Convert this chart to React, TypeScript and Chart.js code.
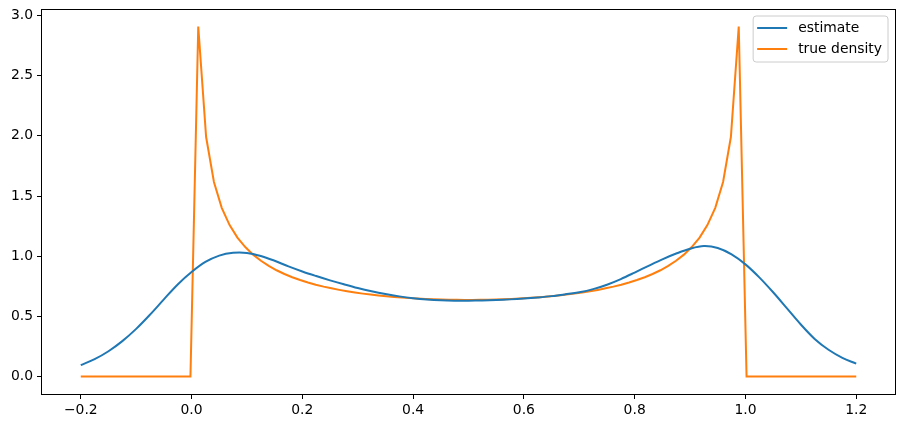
import { useEffect, useRef } from 'react';
import { Chart, registerables } from 'chart.js';

Chart.register(...registerables);

const seriesLabels = ['estimate', 'true density'];
const seriesColors = ['#1f77b4', '#ff7f0e'];

const estimateX = [
  -0.2, -0.175, -0.15, -0.125, -0.1, -0.075, -0.05, -0.025, 0, 0.025, 0.05, 0.075, 0.1, 0.125, 0.15,
  0.175, 0.2, 0.225, 0.25, 0.275, 0.3, 0.325, 0.35, 0.375, 0.4, 0.425, 0.45, 0.475, 0.5, 0.525, 0.55,
  0.575, 0.6, 0.625, 0.65, 0.675, 0.7, 0.725, 0.75, 0.775, 0.8, 0.825, 0.85, 0.875, 0.9, 0.925, 0.95,
  0.975, 1.0, 1.025, 1.05, 1.075, 1.1, 1.125, 1.15, 1.175, 1.2,
];
const estimateY = [
  0.094, 0.144, 0.21, 0.294, 0.396, 0.514, 0.641, 0.765, 0.868, 0.952, 1.005, 1.028, 1.027, 1.002, 0.962,
  0.915, 0.873, 0.835, 0.799, 0.766, 0.735, 0.708, 0.685, 0.666, 0.651, 0.64, 0.633, 0.63, 0.63, 0.632, 0.636,
  0.641, 0.648, 0.657, 0.668, 0.683, 0.7, 0.726, 0.763, 0.81, 0.864, 0.92, 0.974, 1.022, 1.062, 1.084, 1.068,
  1.015, 0.932, 0.824, 0.7, 0.566, 0.432, 0.312, 0.222, 0.155, 0.107,
];

const densityX = [
  -0.2, -0.002,
  0.0121, 0.0263, 0.0404, 0.0545, 0.0687, 0.0828, 0.097, 0.1111, 0.1253, 0.1394, 0.1535, 0.1677, 0.1818,
  0.196, 0.2101, 0.2242, 0.2384, 0.2525, 0.2667, 0.2808, 0.2949, 0.3091, 0.3232, 0.3374, 0.3515, 0.3657,
  0.3798, 0.3939, 0.4081, 0.4222, 0.4364, 0.4505, 0.4646, 0.4788, 0.4929,
  0.5071, 0.5212, 0.5354, 0.5495, 0.5636, 0.5778, 0.5919, 0.6061, 0.6202, 0.6343, 0.6485, 0.6626, 0.6768,
  0.6909, 0.7051, 0.7192, 0.7333, 0.7475, 0.7616, 0.7758, 0.7899, 0.804, 0.8182, 0.8323, 0.8465, 0.8606,
  0.8747, 0.8889, 0.903, 0.9172, 0.9313, 0.9455, 0.9596, 0.9737, 0.9879,
  1.002, 1.2,
];
const densityY = [
  0, 0,
  2.909, 1.9905, 1.6165, 1.4017, 1.2585, 1.1549, 1.0757, 1.0129, 0.9616, 0.919, 0.883, 0.852, 0.8253,
  0.8019, 0.7814, 0.7632, 0.747, 0.7327, 0.7198, 0.7083, 0.698, 0.6888, 0.6806, 0.6732, 0.6667, 0.6609,
  0.6558, 0.6514, 0.6477, 0.6445, 0.6418, 0.6398, 0.6382, 0.6372, 0.6367,
  0.6367, 0.6372, 0.6382, 0.6398, 0.6418, 0.6445, 0.6477, 0.6514, 0.6558, 0.6609, 0.6667, 0.6732, 0.6806,
  0.6888, 0.698, 0.7083, 0.7198, 0.7327, 0.747, 0.7632, 0.7814, 0.8019, 0.8253, 0.852, 0.883, 0.919,
  0.9616, 1.0129, 1.0757, 1.1549, 1.2585, 1.4017, 1.6165, 1.9905, 2.909,
  0, 0,
];

const xTicks = [-0.2, 0, 0.2, 0.4, 0.6, 0.8, 1.0, 1.2];
const yTicks = [0, 0.5, 1.0, 1.5, 2.0, 2.5, 3.0];
const xRange = [-0.27, 1.27];
const yRange = [-0.1455, 3.0545];

const FONT = 'DejaVu Sans';
const FS = 13.9;

const fmt = (v: number) => v.toFixed(1).replace('-', '\u2212');

const framePlugin = {
  id: 'frameAndLegend',
  afterDraw(chart: any) {
    const { ctx, chartArea } = chart;
    const { left, top, right, bottom } = chartArea;
    ctx.save();
    ctx.strokeStyle = '#000000';
    ctx.lineWidth = 1;
    ctx.strokeRect(Math.round(left) - 0.5, Math.round(top) + 0.5, Math.round(right - left) + 1, Math.round(bottom - top));

    ctx.font = `${FS}px "${FONT}"`;
    const textW = Math.max(...seriesLabels.map((l) => ctx.measureText(l).width));
    const handle = 30;
    const boxRight = right - 7;
    const boxTop = top + 7;
    const boxW = 4 + handle + 11 + textW + 6;
    const boxH = 46;
    const boxLeft = boxRight - boxW;
    const r = 3;
    ctx.beginPath();
    ctx.moveTo(boxLeft + r, boxTop);
    ctx.lineTo(boxRight - r, boxTop);
    ctx.quadraticCurveTo(boxRight, boxTop, boxRight, boxTop + r);
    ctx.lineTo(boxRight, boxTop + boxH - r);
    ctx.quadraticCurveTo(boxRight, boxTop + boxH, boxRight - r, boxTop + boxH);
    ctx.lineTo(boxLeft + r, boxTop + boxH);
    ctx.quadraticCurveTo(boxLeft, boxTop + boxH, boxLeft, boxTop + boxH - r);
    ctx.lineTo(boxLeft, boxTop + r);
    ctx.quadraticCurveTo(boxLeft, boxTop, boxLeft + r, boxTop);
    ctx.closePath();
    ctx.fillStyle = 'rgba(255,255,255,0.8)';
    ctx.fill();
    ctx.strokeStyle = '#cccccc';
    ctx.lineWidth = 1;
    ctx.stroke();

    seriesLabels.forEach((label, i) => {
      const cy = boxTop + 12 + i * 21;
      ctx.strokeStyle = seriesColors[i];
      ctx.lineWidth = 2;
      ctx.beginPath();
      ctx.moveTo(boxLeft + 4, cy);
      ctx.lineTo(boxLeft + 4 + handle, cy);
      ctx.stroke();
      ctx.fillStyle = '#000000';
      ctx.textBaseline = 'middle';
      ctx.textAlign = 'left';
      ctx.fillText(label, boxLeft + 4 + handle + 11, cy);
    });
    ctx.restore();
  },
};

export default function App() {
  const ref = useRef<HTMLCanvasElement | null>(null);

  useEffect(() => {
    document.body.style.margin = '0';
    const canvas = ref.current;
    if (!canvas) return;
    const chart = new Chart(canvas, {
      type: 'scatter',
      data: {
        datasets: [
          {
            label: seriesLabels[0],
            data: estimateX.map((x, i) => ({ x, y: estimateY[i] })),
            showLine: true,
            borderColor: seriesColors[0],
            backgroundColor: seriesColors[0],
            borderWidth: 2,
            pointRadius: 0,
            tension: 0.35,
          },
          {
            label: seriesLabels[1],
            data: densityX.map((x, i) => ({ x, y: densityY[i] })),
            showLine: true,
            borderColor: seriesColors[1],
            backgroundColor: seriesColors[1],
            borderWidth: 2,
            pointRadius: 0,
            tension: 0,
          },
        ],
      },
      options: {
        animation: false,
        responsive: false,
        devicePixelRatio: 1,
        layout: { padding: { top: 9, right: 9, left: 0, bottom: 0 } },
        plugins: { legend: { display: false }, tooltip: { enabled: false } },
        scales: {
          x: {
            type: 'linear',
            min: xRange[0],
            max: xRange[1],
            afterBuildTicks: (scale: any) => {
              scale.ticks = xTicks.map((v) => ({ value: v }));
            },
            afterFit: (scale: any) => {
              scale.height = 34;
              scale.paddingLeft = 0;
              scale.paddingRight = 0;
            },
            border: { display: false },
            grid: {
              drawOnChartArea: false,
              drawTicks: true,
              tickLength: 5,
              tickColor: '#000000',
              tickWidth: 1,
            },
            ticks: {
              callback: (v: any) => fmt(Number(v)),
              color: '#000000',
              font: { family: FONT, size: FS },
              padding: 3,
              maxRotation: 0,
              autoSkip: false,
            },
          },
          y: {
            type: 'linear',
            min: yRange[0],
            max: yRange[1],
            afterBuildTicks: (scale: any) => {
              scale.ticks = yTicks.map((v) => ({ value: v }));
            },
            afterFit: (scale: any) => {
              scale.width = 42;
              scale.paddingTop = 0;
              scale.paddingBottom = 0;
            },
            border: { display: false },
            grid: {
              drawOnChartArea: false,
              drawTicks: true,
              tickLength: 5,
              tickColor: '#000000',
              tickWidth: 1,
            },
            ticks: {
              callback: (v: any) => fmt(Number(v)),
              color: '#000000',
              font: { family: FONT, size: FS },
              padding: 4,
              autoSkip: false,
            },
          },
        },
      },
      plugins: [framePlugin],
    } as any);
    return () => chart.destroy();
  }, []);

  return (
    <div style={{ width: 904, height: 428, background: '#ffffff' }}>
      <canvas ref={ref} width={904} height={428} style={{ display: 'block' }} />
    </div>
  );
}
